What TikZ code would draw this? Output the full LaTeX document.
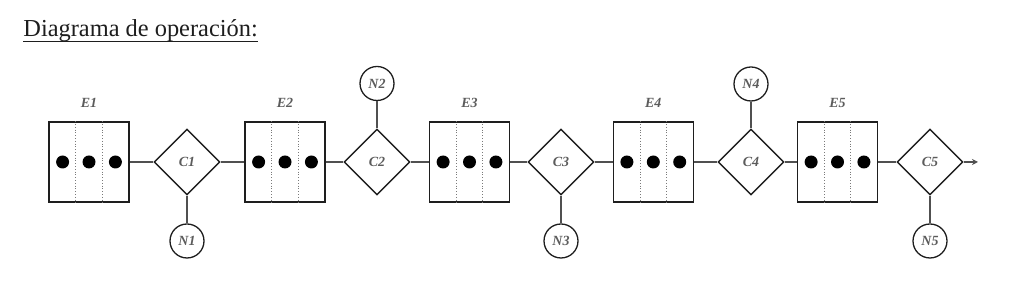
\documentclass[tikz,border=0pt]{standalone}
\usepackage{fontspec}
\setmainfont{Liberation Serif}
\usetikzlibrary{arrows.meta,shapes.geometric,positioning}
\definecolor{ink}{HTML}{1E1E1E}
\definecolor{wiregray}{HTML}{505050}
\definecolor{labelgray}{HTML}{5C5C5C}
\definecolor{dotgray}{HTML}{7A7A7A}

\begin{document}
\begin{tikzpicture}[x=0.5pt, y=-0.5pt,
  estacion/.style={draw=ink, line width=0.7pt, minimum size=40pt, inner sep=0pt},
  control/.style={diamond, draw=ink, line width=0.7pt, minimum size=33pt,
                  inner sep=0pt, font=\fontsize{7}{8}\selectfont\bfseries\itshape, text=labelgray},
  nodo/.style={circle, draw=ink, line width=0.65pt, minimum size=17pt,
               inner sep=0pt, font=\fontsize{7}{8}\selectfont\bfseries\itshape, text=labelgray},
  etiqueta/.style={font=\fontsize{7}{8}\selectfont\bfseries\itshape, text=labelgray},
  wire/.style={wiregray, line width=0.55pt},
  divider/.style={dotgray, densely dotted, line width=0.4pt},
]
\useasboundingbox (0,0) rectangle (1024,292);

% ── Title ───────────────────────────────────────────────────────────────
\node[anchor=base west, inner sep=0pt, text=ink, font=\fontsize{12.2}{14}\selectfont]
      (titulo) at (23,37) {Diagrama de operación:};
\draw[ink, line width=0.6pt] ([yshift=-2.2pt]titulo.base west) -- ([yshift=-2.2pt]titulo.base east);

% ── Stations ────────────────────────────────────────────────────────────
\node[estacion, label={[etiqueta, label distance=3.2pt]above:E1}] (e1) at (89,162)    {};
\node[estacion, label={[etiqueta, label distance=3.2pt]above:E2}] (e2) at (285,162)   {};
\node[estacion, label={[etiqueta, label distance=3.2pt]above:E3}] (e3) at (469.5,162) {};
\node[estacion, label={[etiqueta, label distance=3.2pt]above:E4}] (e4) at (653.3,162) {};
\node[estacion, label={[etiqueta, label distance=3.2pt]above:E5}] (e5) at (837.5,162) {};

\foreach \i in {1,...,5} {
  \draw[divider] ([xshift=-6.67pt]e\i.north) -- ([xshift=-6.67pt]e\i.south);
  \draw[divider] ([xshift=6.67pt]e\i.north) -- ([xshift=6.67pt]e\i.south);
  \fill ([xshift=-13.2pt]e\i.center) circle[radius=3.25pt];
  \fill (e\i.center) circle[radius=3.25pt];
  \fill ([xshift=13.2pt]e\i.center) circle[radius=3.25pt];
}

% ── Controls and their nodes ────────────────────────────────────────────
\node[control] (c1) at (187,162) {C1};
\node[control] (c2) at (377,162) {C2};
\node[control] (c3) at (561,162) {C3};
\node[control] (c4) at (751,162) {C4};
\node[control] (c5) at (930,162) {C5};

\node[nodo] (n1) at (187,241)  {N1};
\node[nodo] (n2) at (377,83.5) {N2};
\node[nodo] (n3) at (561,241)  {N3};
\node[nodo] (n4) at (751,84)   {N4};
\node[nodo] (n5) at (930,241)  {N5};

\coordinate (salida) at (978,162);

% ── Line ────────────────────────────────────────────────────────────────
\draw[wire] (e1) -- (c1);
\draw[wire] (c1) -- (e2);
\draw[wire] (e2) -- (c2);
\draw[wire] (c2) -- (e3);
\draw[wire] (e3) -- (c3);
\draw[wire] (c3) -- (e4);
\draw[wire] (e4) -- (c4);
\draw[wire] (c4) -- (e5);
\draw[wire] (e5) -- (c5);
\draw[wire, -{Stealth[length=3pt, width=3pt]}] (c5) -- (salida);

\draw[wire, line width=0.65pt] (c1) -- (n1);
\draw[wire, line width=0.65pt] (c2) -- (n2);
\draw[wire, line width=0.65pt] (c3) -- (n3);
\draw[wire, line width=0.65pt] (c4) -- (n4);
\draw[wire, line width=0.65pt] (c5) -- (n5);

\end{tikzpicture}
\end{document}
